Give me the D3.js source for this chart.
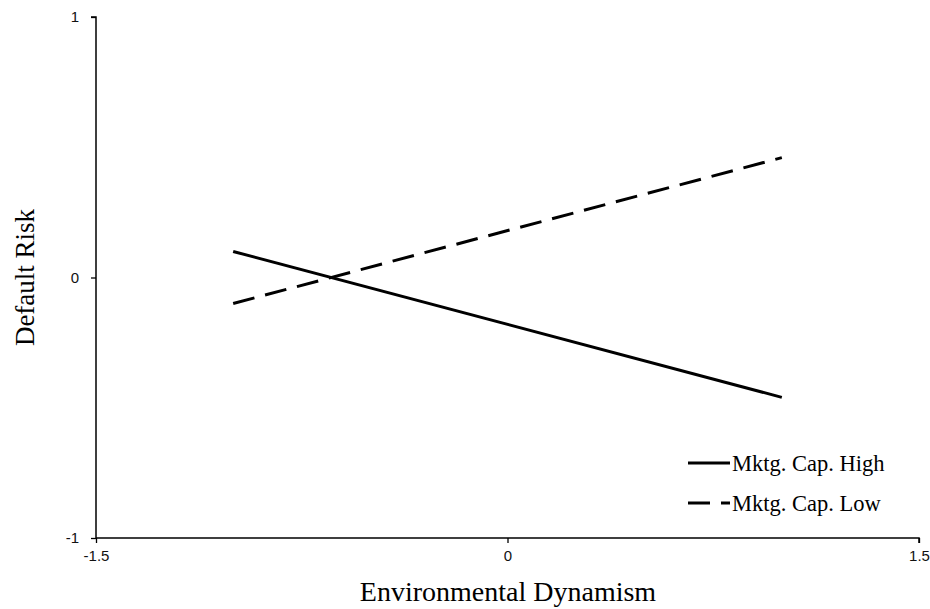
<!DOCTYPE html>
<html>
<head>
<meta charset="utf-8">
<script src="https://cdn.jsdelivr.net/npm/d3@7"></script>
<style>
  body { margin: 0; background: #fff; }
</style>
</head>
<body>
<div class="chart"></div>
<script>
// values
var xPoints = [-1, 1];
var highValues = [0.1, -0.46];
var lowValues = [-0.1, 0.46];
var seriesNames = ["Mktg. Cap. High", "Mktg. Cap. Low"];
var xTicks = [-1.5, 0, 1.5];
var yTicks = [-1, 0, 1];

var width = 930, height = 609;

var svg = d3.select(".chart")
    .append("svg")
    .attr("width", width)
    .attr("height", height);

var x = d3.scaleLinear().domain([-1.5, 1.5]).range([96, 919]);
var y = d3.scaleLinear().domain([-1, 1]).range([538, 17]);

var xAxis = d3.axisBottom(x).tickValues(xTicks).tickSize(5).tickPadding(7)
    .tickFormat(function(d) { return String(d); });
var yAxis = d3.axisLeft(y).tickValues(yTicks).tickSize(5).tickPadding(12)
    .tickFormat(function(d) { return String(d); });

var gx = svg.append("g")
    .attr("transform", "translate(0," + y(-1) + ")")
    .call(xAxis);
var gy = svg.append("g")
    .attr("transform", "translate(" + x(-1.5) + ",0)")
    .call(yAxis);

[gx, gy].forEach(function(g) {
    g.attr("font-size", null).attr("font-family", null);
    g.select(".domain").attr("stroke", "#000").attr("stroke-width", 1.5)
        .attr("d", g === gx ? "M" + x(-1.5) + ",0H" + x(1.5) + "V5" : "M0," + y(-1) + "V" + y(1) + "H-5");
    g.selectAll(".tick line").attr("stroke", "#000").attr("stroke-width", 1.3);
    g.selectAll(".tick text")
        .style("font-family", "'Liberation Sans', Arial, sans-serif")
        .style("font-size", "15px")
        .attr("fill", "#111");
});

// axis titles
svg.append("text")
    .attr("x", 508)
    .attr("y", 601)
    .attr("text-anchor", "middle")
    .style("font-family", "'Liberation Serif', 'Times New Roman', serif")
    .style("font-size", "28px")
    .text("Environmental Dynamism");

svg.append("text")
    .attr("transform", "translate(34," + y(0) + ") rotate(-90)")
    .attr("text-anchor", "middle")
    .style("font-family", "'Liberation Serif', 'Times New Roman', serif")
    .style("font-size", "27px")
    .text("Default Risk");

// series lines
var line = d3.line()
    .x(function(d) { return x(d[0]); })
    .y(function(d) { return y(d[1]); });

var series = [
    { name: seriesNames[0], values: highValues, dash: null },
    { name: seriesNames[1], values: lowValues, dash: "22,11" }
];

series.forEach(function(s) {
    svg.append("path")
        .datum(d3.zip(xPoints, s.values))
        .attr("d", line)
        .attr("fill", "none")
        .attr("stroke", "#000")
        .attr("stroke-width", 3)
        .attr("stroke-dasharray", s.dash);
});

// legend
var legend = svg.append("g").attr("transform", "translate(688,463)");
series.forEach(function(s, i) {
    var g = legend.append("g").attr("transform", "translate(0," + (i * 40) + ")");
    g.append("line")
        .attr("x1", 0).attr("x2", 42)
        .attr("y1", 0).attr("y2", 0)
        .attr("stroke", "#000")
        .attr("stroke-width", 3)
        .attr("stroke-dasharray", s.dash);
    g.append("text")
        .attr("x", 44)
        .attr("y", 8)
        .style("font-family", "'Liberation Serif', 'Times New Roman', serif")
        .style("font-size", "22.5px")
        .text(s.name);
});
</script>
</body>
</html>
